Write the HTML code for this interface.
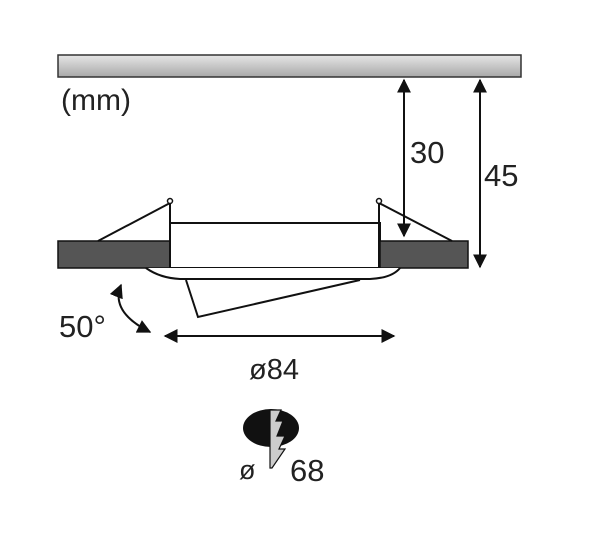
<!DOCTYPE html>
<html><head><style>body{margin:0;background:#fff}svg{display:block}</style></head><body>
<svg width="600" height="550" viewBox="0 0 600 550" xmlns="http://www.w3.org/2000/svg" font-family="Liberation Sans, sans-serif">
<defs>
<linearGradient id="g" x1="0" y1="0" x2="0" y2="1"><stop offset="0" stop-color="#e6e6e6"/><stop offset="1" stop-color="#a8a8a8"/></linearGradient>
<marker id="a" viewBox="0 0 10 10" refX="9" refY="5" markerWidth="7" markerHeight="7" orient="auto-start-reverse"><path d="M0,0L10,5L0,10z" fill="#111"/></marker>
</defs>
<rect x="58" y="55" width="463" height="22" fill="url(#g)" stroke="#333" stroke-width="1.5"/>
<text x="61" y="110" font-size="30" fill="#222">(mm)</text>
<line x1="404" y1="80" x2="404" y2="236" stroke="#111" stroke-width="2" marker-start="url(#a)" marker-end="url(#a)"/>
<line x1="480" y1="80" x2="480" y2="267" stroke="#111" stroke-width="2" marker-start="url(#a)" marker-end="url(#a)"/>
<text x="410" y="163" font-size="31" fill="#222">30</text>
<text x="484" y="186" font-size="31" fill="#222">45</text>
<rect x="170" y="223" width="210" height="45" fill="#fff" stroke="#111" stroke-width="2"/>
<rect x="58" y="241" width="112" height="27" fill="#555" stroke="#111" stroke-width="1.5"/>
<rect x="380" y="241" width="88" height="27" fill="#555" stroke="#111" stroke-width="1.5"/>
<line x1="170" y1="203" x2="170" y2="268" stroke="#111" stroke-width="2"/>
<line x1="379" y1="203" x2="379" y2="268" stroke="#111" stroke-width="2"/>
<line x1="170" y1="203" x2="98" y2="241" stroke="#111" stroke-width="2"/>
<line x1="379" y1="203" x2="452" y2="241" stroke="#111" stroke-width="2"/>
<circle cx="170" cy="201" r="2.5" fill="#fff" stroke="#111" stroke-width="1.5"/>
<circle cx="379" cy="201" r="2.5" fill="#fff" stroke="#111" stroke-width="1.5"/>
<path d="M146,268 Q160,278 180,279 L370,279 Q392,278 400,268" fill="#fff" stroke="#111" stroke-width="2"/>
<path d="M186,280 L198,317 L360,280" fill="none" stroke="#111" stroke-width="2"/>
<path d="M121,285 Q110,312 150,332" fill="none" stroke="#111" stroke-width="2" marker-start="url(#a)" marker-end="url(#a)"/>
<text x="59" y="337" font-size="31" fill="#222">50°</text>
<line x1="165" y1="336" x2="394" y2="336" stroke="#111" stroke-width="2" marker-start="url(#a)" marker-end="url(#a)"/>
<text x="249" y="379" font-size="29" fill="#222">ø84</text>
<ellipse cx="271" cy="428" rx="28" ry="19" fill="#111"/>
<path d="M270,410 L281,410 L276,421 L283,421 L277,436 L285,436 L279,449 L285,449 L272,468 L270,468 Z" fill="#ccc" stroke="#111" stroke-width="1.2"/>
<text x="239" y="479" font-size="27" fill="#222">ø</text>
<text x="290" y="481" font-size="31" fill="#222">68</text>
</svg>
</body></html>
